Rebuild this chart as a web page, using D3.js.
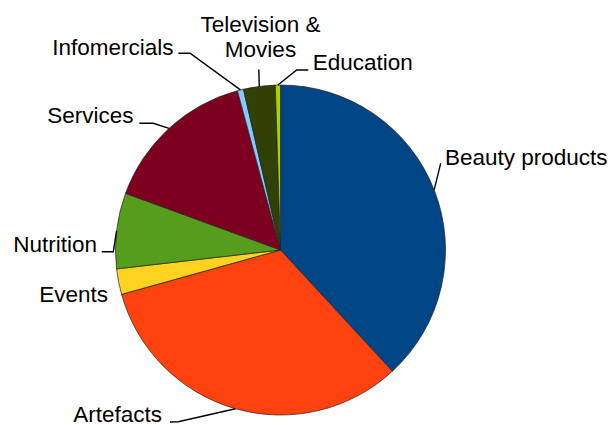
<!DOCTYPE html>
<html>
<head>
<meta charset="utf-8">
<script src="https://cdn.jsdelivr.net/npm/d3@7"></script>
<style>
  html, body { margin: 0; padding: 0; background: #fff; }
  svg { display: block; }
  text { font-family: "Liberation Sans", Arial, sans-serif; font-size: 22.5px; fill: #000; }
</style>
</head>
<body>
<svg id="chart" width="615" height="425"></svg>
<script>
// ---- data ----
const categories = ["Beauty products", "Artefacts", "Events", "Nutrition", "Services", "Infomercials", "Television & Movies", "Education"];
const values = [38.1, 32.5, 2.5, 7.4, 15.2, 0.6, 3.1, 0.5];
const colors = ["#004586", "#ff420e", "#ffd320", "#579d1c", "#7e0021", "#83caff", "#314004", "#aecf00"];

// ---- layout (label placement) ----
const cx = 280.5, cy = 250, R = 165;
const labelLayout = [
  { lines: ["Beauty products"], x: 445, y: 165, anchor: "start", leader: [[440.7, 163.3]] },
  { lines: ["Artefacts"], x: 162, y: 421.5, anchor: "end", leader: [[178.3, 421.7], [170, 422]] },
  { lines: ["Events"], x: 108, y: 301.7, anchor: "end", leader: null },
  { lines: ["Nutrition"], x: 97, y: 251.7, anchor: "end", leader: [[113.3, 251.7], [101.7, 251.7]] },
  { lines: ["Services"], x: 133.5, y: 123.3, anchor: "end", leader: [[153.3, 123.3], [139.3, 123.3]] },
  { lines: ["Infomercials"], x: 173.5, y: 55, anchor: "end", leader: [[190, 53.3], [178.3, 53.3]] },
  { lines: ["Television &", "Movies"], x: 260.5, y: 31.7, anchor: "middle", leader: [[258.8, 69.5]] },
  { lines: ["Education"], x: 312.7, y: 70, anchor: "start", leader: [[296.7, 70], [308.3, 70]] }
];

const svg = d3.select("#chart");
const g = svg.append("g").attr("transform", `translate(${cx},${cy})`);

const pie = d3.pie().sort(null).value(d => d.value);
const arcs = pie(categories.map((c, i) => ({ name: c, value: values[i], color: colors[i] })));
const arc = d3.arc().innerRadius(0).outerRadius(R);

g.selectAll("path.slice")
  .data(arcs)
  .enter().append("path")
  .attr("class", "slice")
  .attr("d", arc)
  .attr("fill", d => d.data.color)
  .attr("stroke", "#222")
  .attr("stroke-width", 0.7)
  .attr("stroke-linejoin", "round");

// leader lines
const line = d3.line();
arcs.forEach((a, i) => {
  const L = labelLayout[i];
  if (!L.leader) return;
  const mid = (a.startAngle + a.endAngle) / 2;
  const start = [cx + R * Math.sin(mid), cy - R * Math.cos(mid)];
  svg.append("path")
    .attr("d", line([start, ...L.leader]))
    .attr("fill", "none")
    .attr("stroke", "#000")
    .attr("stroke-width", 1.4);
});

// labels
labelLayout.forEach((L, i) => {
  const t = svg.append("text")
    .attr("x", L.x).attr("y", L.y)
    .attr("text-anchor", L.anchor);
  L.lines.forEach((ln, j) => {
    t.append("tspan").attr("x", L.x).attr("dy", j === 0 ? 0 : 25).text(ln);
  });
});
</script>
</body>
</html>
